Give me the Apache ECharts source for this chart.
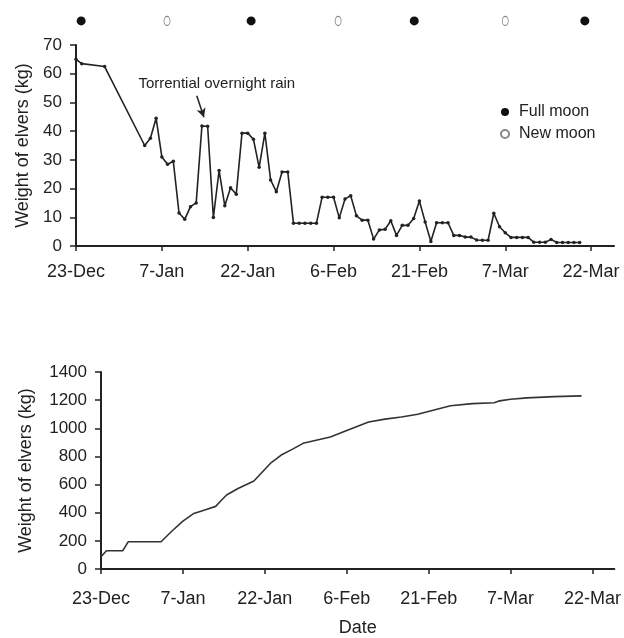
<!DOCTYPE html>
<html>
<head>
<meta charset="utf-8">
<script src="https://cdn.jsdelivr.net/npm/echarts@6/dist/echarts.min.js"></script>
<style>
  html, body { margin: 0; padding: 0; background: #fff; }
  #chart { width: 624px; height: 638px; }
</style>
</head>
<body>
<div id="chart"></div>
<script>
// day 0 = 23-Dec
var dateLabels = ['23-Dec', '7-Jan', '22-Jan', '6-Feb', '21-Feb', '7-Mar', '22-Mar'];

var dailyDays = [0, 1, 5,
  12, 13, 14, 15, 16, 17, 18, 19, 20, 21, 22, 23, 24, 25, 26, 27, 28, 29,
  30, 31, 32, 33, 34, 35, 36, 37, 38, 39, 40, 41, 42, 43, 44, 45, 46, 47, 48, 49,
  50, 51, 52, 53, 54, 55, 56, 57, 58, 59, 60, 61, 62, 63, 64, 65, 66, 67, 68, 69,
  70, 71, 72, 73, 74, 75, 76, 77, 78, 79, 80, 81, 82, 83, 84, 85, 86, 87, 88];
var dailyWeight = [65, 63.5, 62.5,
  35, 37.5, 44.5, 31, 28.5, 29.5, 11.5, 9.3, 13.7, 15, 41.8, 41.7, 9.9, 26.3, 14, 20.3, 18, 39.3,
  39.3, 37.2, 27.4, 39.3, 23, 18.9, 25.8, 25.8, 7.9, 7.9, 7.9, 7.9, 7.9, 17, 17, 17, 9.8, 16.4, 17.5, 10.5,
  9, 9, 2.4, 5.6, 5.8, 8.8, 3.7, 7.2, 7.2, 9.6, 15.7, 8.4, 1.6, 8.1, 8.1, 8.1, 3.7, 3.7, 3.1, 3.1,
  2.1, 2, 2, 11.4, 6.7, 4.6, 3, 3, 3, 3, 1.3, 1.3, 1.3, 2.3, 1.2, 1.2, 1.2, 1.2, 1.2];

var cumDays = [0, 1, 4, 5, 11, 13, 15, 17, 19, 21, 22, 23, 25, 28, 31, 33, 35, 37, 40, 42,
  45, 49, 52, 55, 58, 61, 64, 68, 72, 73, 75, 78, 83, 88];
var cumWeight = [87, 130, 130, 194, 194, 270, 340, 395, 420, 445, 487, 526, 570, 625, 750, 810, 850, 893, 920, 938,
  985, 1045, 1065, 1080, 1100, 1130, 1160, 1175, 1182, 1195, 1206, 1216, 1225, 1230];

var fullMoonDays = [0.9, 30.6, 59.1, 88.9];
var newMoonDays = [15.9, 45.8, 75.0];
var moonLevel = 78.4;

function pairs(xs, ys) {
  return xs.map(function (x, i) { return [x, ys[i]]; });
}

var tickDays = dateLabels.map(function (d, i) { return i * 15; });
var font = 'Liberation Sans, Arial, sans-serif';
var ink = '#222';

function dateAxis(gridIndex, margin, extra) {
  var ax = {
    type: 'value',
    gridIndex: gridIndex,
    min: 0,
    max: 94,
    interval: 15,
    splitLine: { show: false },
    axisLine: { lineStyle: { color: ink, width: 2 } },
    axisTick: { length: 5, lineStyle: { color: ink, width: 1.5 }, customValues: tickDays },
    axisLabel: {
      color: ink, fontFamily: font, fontSize: 18, margin: margin,
      customValues: tickDays,
      formatter: function (v) { return dateLabels[Math.round(v / 15)] || ''; }
    }
  };
  return Object.assign(ax, extra || {});
}

function weightAxis(gridIndex, max, interval, gap) {
  return {
    type: 'value',
    gridIndex: gridIndex,
    min: 0,
    max: max,
    interval: interval,
    name: 'Weight of elvers (kg)',
    nameLocation: 'middle',
    nameGap: gap,
    nameRotate: 90,
    nameTextStyle: { color: ink, fontFamily: font, fontSize: 18 },
    splitLine: { show: false },
    axisLine: { show: true, lineStyle: { color: ink, width: 2 } },
    axisTick: { show: true, length: 6, lineStyle: { color: ink, width: 1.5 } },
    axisLabel: {
      color: ink, fontFamily: font, fontSize: 17, margin: 14,
      formatter: function (v) { return String(v); }
    }
  };
}

var chart = echarts.init(document.getElementById('chart'));
chart.setOption({
  animation: false,
  legend: {
    orient: 'vertical',
    left: 495,
    top: 99,
    itemWidth: 10,
    itemHeight: 8,
    itemGap: 6,
    textStyle: { color: ink, fontFamily: font, fontSize: 16, padding: [0, 0, 0, 4] },
    data: ['Full moon', 'New moon']
  },
  grid: [
    { left: 76, right: 10, top: 45, bottom: 392 },
    { left: 101, right: 9, top: 372, bottom: 69 }
  ],
  xAxis: [
    dateAxis(0, 17),
    dateAxis(1, 21, {
      name: 'Date',
      nameLocation: 'middle',
      nameGap: 50,
      nameTextStyle: { color: ink, fontFamily: font, fontSize: 18 }
    })
  ],
  yAxis: [
    weightAxis(0, 70, 10, 42),
    weightAxis(1, 1400, 200, 66)
  ],
  series: [
    {
      type: 'line',
      xAxisIndex: 0,
      yAxisIndex: 0,
      data: pairs(dailyDays, dailyWeight),
      symbol: 'circle',
      symbolSize: 3.5,
      showAllSymbol: true,
      lineStyle: { color: ink, width: 1.6 },
      itemStyle: { color: ink },
      markLine: {
        silent: true,
        symbol: ['none', 'arrow'],
        symbolSize: [7, 9],
        label: { show: false },
        lineStyle: { color: ink, width: 1.5, type: 'solid' },
        data: [[{ coord: [21.1, 52.3] }, { coord: [22.35, 44.8] }]]
      },
      markPoint: {
        silent: true,
        symbol: 'circle',
        symbolSize: 0,
        label: {
          show: true,
          position: 'inside',
          color: ink,
          fontFamily: font,
          fontSize: 15,
          formatter: 'Torrential overnight rain'
        },
        data: [{ coord: [24.6, 56.4] }]
      }
    },
    {
      name: 'Full moon',
      type: 'scatter',
      xAxisIndex: 0,
      yAxisIndex: 0,
      clip: false,
      symbol: 'circle',
      symbolSize: 9,
      itemStyle: { color: '#111', opacity: 1 },
      data: fullMoonDays.map(function (d) { return [d, moonLevel]; })
    },
    {
      name: 'New moon',
      type: 'scatter',
      xAxisIndex: 0,
      yAxisIndex: 0,
      clip: false,
      symbol: 'circle',
      symbolSize: [6, 9],
      itemStyle: { color: '#fff', borderColor: '#888', borderWidth: 1, opacity: 1 },
      data: newMoonDays.map(function (d) { return [d, moonLevel]; })
    },
    {
      type: 'line',
      xAxisIndex: 1,
      yAxisIndex: 1,
      data: pairs(cumDays, cumWeight),
      showSymbol: false,
      lineStyle: { color: '#333', width: 1.6 }
    }
  ]
});
</script>
</body>
</html>
